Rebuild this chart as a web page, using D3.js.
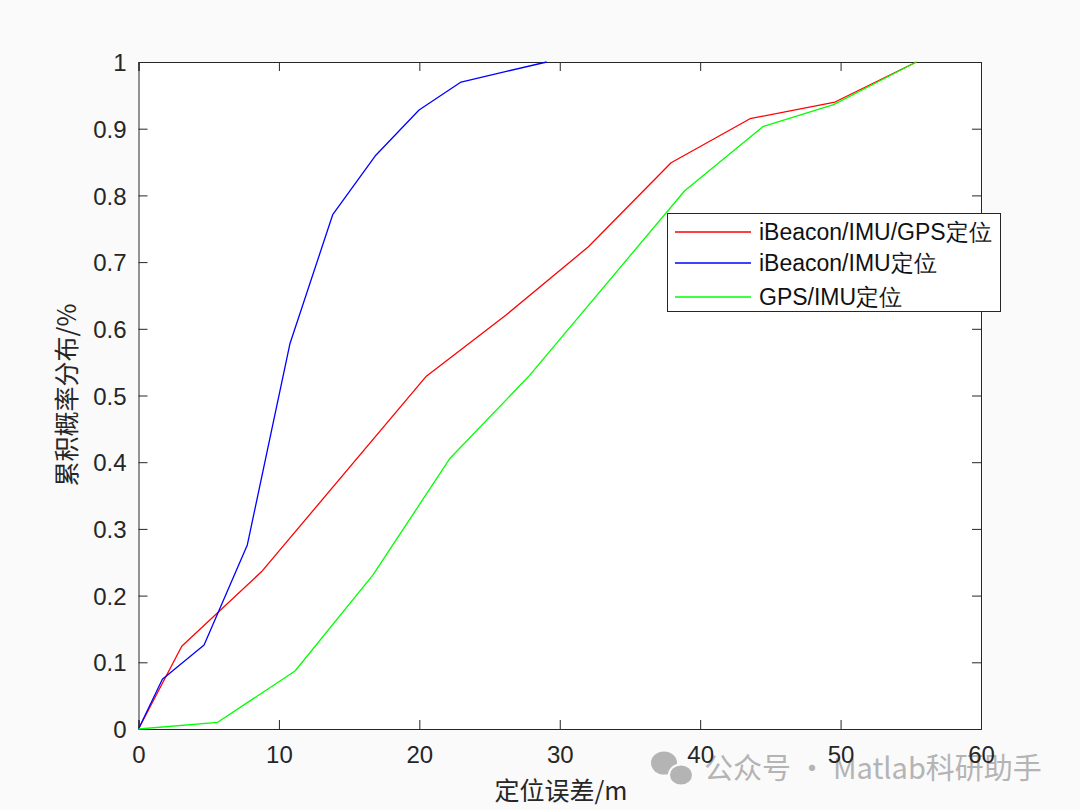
<!DOCTYPE html>
<html><head><meta charset="utf-8">
<script src="https://cdn.jsdelivr.net/npm/d3@7"></script>
<style>body{margin:0;background:#fafafa;} svg{display:block;}</style>
</head><body>
<script>
const seriesNames = ["iBeacon/IMU/GPS定位", "iBeacon/IMU定位", "GPS/IMU定位"];
const seriesColors = ["#ff0000", "#0000ff", "#00ff00"];
const redX = [0, 3.08, 8.77, 20.5, 26.2, 32.04, 37.93, 43.55, 49.6, 55.4];
const redY = [0, 0.124, 0.236, 0.529, 0.621, 0.723, 0.849, 0.915, 0.940, 1.0];
const blueX = [0, 1.70, 4.67, 7.75, 10.79, 13.83, 16.85, 19.98, 22.97, 26.2, 29.07];
const blueY = [0, 0.0745, 0.126, 0.276, 0.578, 0.771, 0.859, 0.928, 0.970, 0.986, 1.0];
const greenX = [0, 5.64, 11.15, 16.7, 22.19, 27.76, 38.9, 44.46, 49.5, 55.4];
const greenY = [0, 0.010, 0.087, 0.231, 0.406, 0.528, 0.807, 0.903, 0.936, 1.0];
const xTicks = [0, 10, 20, 30, 40, 50, 60];
const yTicks = [0, 0.1, 0.2, 0.3, 0.4, 0.5, 0.6, 0.7, 0.8, 0.9, 1];
const xLabel = "定位误差/m";
const yLabel = "累积概率分布/%";
const watermark = "公众号 · Matlab科研助手";

const W = 1080, H = 810;
const L = 138.5, R = 981, T = 62, B = 729;
const svg = d3.select("body").append("svg").attr("width", W).attr("height", H);
svg.append("rect").attr("width", W).attr("height", H).attr("fill", "#fafafa");
svg.append("rect").attr("x", L).attr("y", T).attr("width", R - L).attr("height", B - T).attr("fill", "#fff");

const x = d3.scaleLinear().domain([0, 60]).range([L, R]);
const y = d3.scaleLinear().domain([0, 1]).range([B, T]);
const font = "'Liberation Sans', Arial, sans-serif";
const cjk = "'Noto Sans CJK SC', sans-serif";

// watermark (under the text)
const wm = svg.append("g");
wm.append("ellipse").attr("cx", 664).attr("cy", 763).attr("rx", 13).attr("ry", 11.5).attr("fill", "#b4b4b4");
wm.append("ellipse").attr("cx", 681).attr("cy", 775).attr("rx", 12).attr("ry", 10.5).attr("fill", "#b4b4b4").attr("stroke", "#fafafa").attr("stroke-width", 2);
wm.append("text").attr("x", 704).attr("y", 779).attr("font-family", cjk).attr("font-size", 29)
  .attr("fill", "#b4b4b4").text(watermark);

// axes
const ax = svg.append("g").attr("transform", `translate(0,${B})`)
  .call(d3.axisBottom(x).tickValues(xTicks).tickSize(-9).tickPadding(17).tickFormat(d3.format("d")));
const axTop = svg.append("g").attr("transform", `translate(0,${T})`)
  .call(d3.axisTop(x).tickValues(xTicks).tickSize(-9).tickFormat(""));
const ay = svg.append("g").attr("transform", `translate(${L},0)`)
  .call(d3.axisLeft(y).tickValues(yTicks).tickSize(-9).tickPadding(12).tickFormat(d => d === 0 ? "0" : d === 1 ? "1" : d3.format(".1f")(d)));
const ayR = svg.append("g").attr("transform", `translate(${R},0)`)
  .call(d3.axisRight(y).tickValues(yTicks).tickSize(-9).tickFormat(""));
[ax, axTop, ay, ayR].forEach(g => {
  g.selectAll("path.domain").attr("stroke", "#262626").attr("stroke-width", 1);
  g.selectAll(".tick line").attr("stroke", "#262626").attr("stroke-width", 1);
  g.selectAll(".tick text").attr("fill", "#262626").attr("font-family", font).attr("font-size", 24);
});
ay.selectAll(".tick text").attr("dy", "0.36em");
ax.selectAll(".tick text").attr("dy", "0.71em");

// lines
const data = [
  redX.map((v, i) => [v, redY[i]]),
  blueX.map((v, i) => [v, blueY[i]]),
  greenX.map((v, i) => [v, greenY[i]])
];
const line = d3.line().x(d => x(d[0])).y(d => y(d[1]));
data.forEach((d, i) => {
  svg.append("path").attr("d", line(d)).attr("fill", "none")
    .attr("stroke", seriesColors[i]).attr("stroke-width", 1.3).attr("stroke-linejoin", "round");
});

// labels
svg.append("text").attr("x", 561).attr("y", 800).attr("text-anchor", "middle")
  .attr("font-family", cjk).attr("font-size", 25).attr("fill", "#262626").text(xLabel);
svg.append("text").attr("transform", `translate(76,${395}) rotate(-90)`).attr("text-anchor", "middle")
  .attr("font-family", cjk).attr("font-size", 25).attr("fill", "#262626").text(yLabel);

// legend
const lg = svg.append("g");
lg.append("rect").attr("x", 667.5).attr("y", 213.5).attr("width", 333).attr("height", 98)
  .attr("fill", "#fff").attr("stroke", "#262626").attr("stroke-width", 1);
const rowY = [232, 263, 297];
seriesNames.forEach((n, i) => {
  lg.append("line").attr("x1", 675).attr("x2", 751).attr("y1", rowY[i]).attr("y2", rowY[i])
    .attr("stroke", seriesColors[i]).attr("stroke-width", 1.3);
  lg.append("text").attr("x", 759).attr("y", rowY[i]).attr("dy", "0.36em")
    .attr("font-family", font).attr("font-size", 23).attr("fill", "#111").text(n);
});
</script>
</body></html>
